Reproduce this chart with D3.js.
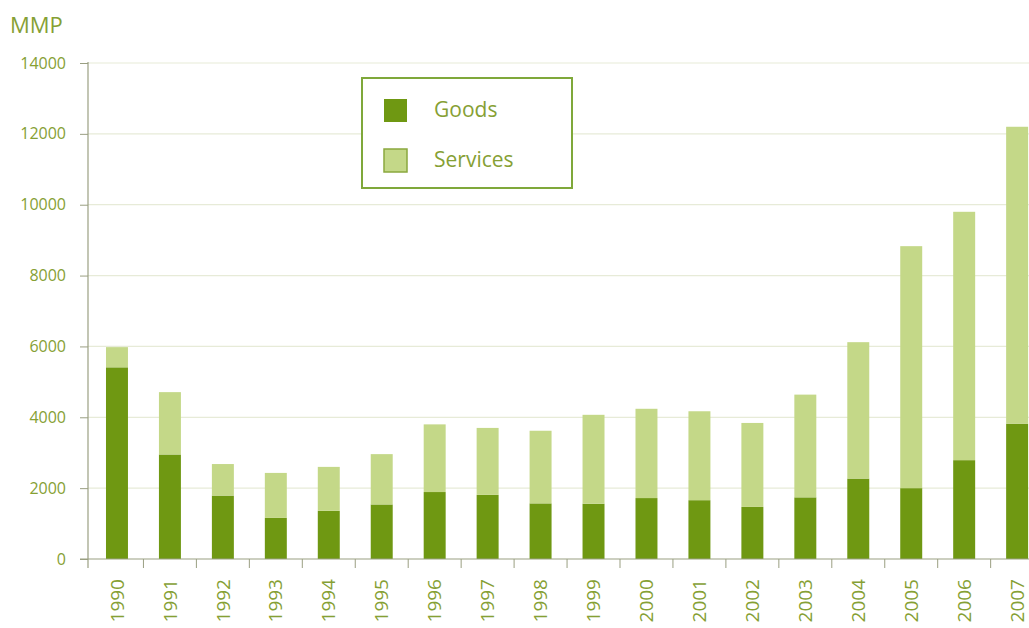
<!DOCTYPE html>
<html>
<head>
<meta charset="utf-8">
<script src="https://cdn.jsdelivr.net/npm/d3@7"></script>
<style>
  html, body { margin: 0; padding: 0; background: #fff; }
  svg { display: block; }
  text { font-family: "Open Sans", "Noto Sans", sans-serif; }
</style>
</head>
<body>
<svg id="chart" width="1029" height="628"></svg>
<script>
// Trade volume by year, split into goods and services (MMP)
const years = ["1990","1991","1992","1993","1994","1995","1996","1997","1998","1999",
               "2000","2001","2002","2003","2004","2005","2006","2007"];
const goods    = [5410, 2950, 1790, 1160, 1360, 1540, 1890, 1810, 1570, 1560,
                  1720, 1660, 1470, 1740, 2270, 2000, 2790, 3820];
const services = [ 570, 1760,  890, 1270, 1240, 1420, 1910, 1890, 2050, 2510,
                  2520, 2510, 2370, 2900, 3850, 6830, 7010, 8380];
const yTicks = [0, 2000, 4000, 6000, 8000, 10000, 12000, 14000];
const seriesNames = ["Goods", "Services"];

const colGoods = "#6f9812";
const colServices = "#c4d888";
const colText = "#86a034";
const colAxis = "#9a9f82";
const colGrid = "#e7ebd8";

const svg = d3.select("#chart");
const W = 1029;
const axisX = 88;

const y = d3.scaleLinear().domain([0, 14000]).range([559, 63]);
const step = 52.95;
const x = d3.scaleBand()
  .domain(years)
  .range([90.5, 90.5 + step * years.length])
  .paddingInner(0.585)
  .paddingOuter(0.2925);

// grid lines
svg.append("g")
  .selectAll("line")
  .data(yTicks.filter(d => d > 0))
  .join("line")
  .attr("x1", axisX).attr("x2", W)
  .attr("y1", d => y(d)).attr("y2", d => y(d))
  .attr("stroke", colGrid).attr("stroke-width", 1.2);

// stacked bars
const rows = years.map((yr, i) => ({ year: yr, Goods: goods[i], Services: services[i] }));
const stacked = d3.stack().keys(seriesNames)(rows);
const colors = { Goods: colGoods, Services: colServices };

svg.append("g")
  .selectAll("g")
  .data(stacked)
  .join("g")
  .attr("fill", s => colors[s.key])
  .selectAll("rect")
  .data(s => s)
  .join("rect")
  .attr("x", d => x(d.data.year))
  .attr("width", x.bandwidth())
  .attr("y", d => y(d[1]))
  .attr("height", d => y(d[0]) - y(d[1]));

// y axis
const yAxis = svg.append("g")
  .attr("transform", `translate(${axisX},0)`)
  .call(d3.axisLeft(y).tickValues(yTicks).tickSize(8).tickPadding(14).tickFormat(d3.format("d")));
yAxis.select(".domain").remove();
yAxis.selectAll(".tick line").attr("stroke", colAxis);
yAxis.selectAll(".tick text")
  .attr("fill", colText)
  .style("font-size", "16px");
yAxis.append("line")
  .attr("x1", 0).attr("x2", 0)
  .attr("y1", y(14000) - 1).attr("y2", 568)
  .attr("stroke", colAxis).attr("stroke-width", 1.2);

// x axis baseline and category separators
svg.append("line")
  .attr("x1", 80).attr("x2", W)
  .attr("y1", y(0)).attr("y2", y(0))
  .attr("stroke", colAxis).attr("stroke-width", 1.2);

svg.append("g")
  .selectAll("line")
  .data(years.slice(1))
  .join("line")
  .attr("x1", d => x(d) - x.step() * x.paddingInner() / 2)
  .attr("x2", d => x(d) - x.step() * x.paddingInner() / 2)
  .attr("y1", y(0)).attr("y2", y(0) + 9)
  .attr("stroke", colAxis).attr("stroke-width", 1);

// rotated year labels
const xAxis = svg.append("g")
  .attr("transform", `translate(0,${y(0)})`)
  .call(d3.axisBottom(x).tickSize(0).tickPadding(0));
xAxis.select(".domain").remove();
xAxis.selectAll(".tick text")
  .attr("fill", colText)
  .style("font-size", "19px")
  .attr("text-anchor", "end")
  .attr("dy", "0.35em")
  .attr("transform", "translate(0,20) rotate(-90)")
  .attr("y", 0)
  .attr("x", 0);

// unit label
svg.append("text")
  .attr("x", 10).attr("y", 33)
  .attr("fill", colText)
  .style("font-size", "22px")
  .text("MMP");

// legend
const legend = svg.append("g");
legend.append("rect")
  .attr("x", 362).attr("y", 78).attr("width", 210).attr("height", 110)
  .attr("fill", "#fff").attr("stroke", "#7fa83a").attr("stroke-width", 2);
const items = legend.selectAll("g.item")
  .data(seriesNames)
  .join("g")
  .attr("class", "item")
  .attr("transform", (d, i) => `translate(384,${99 + i * 50})`);
items.append("rect")
  .attr("width", 23).attr("height", 23)
  .attr("fill", d => colors[d])
  .attr("stroke", d => d === "Services" ? "#8aa83e" : "none")
  .attr("stroke-width", 1.5);
items.append("text")
  .attr("x", 50).attr("y", 18)
  .attr("fill", colText)
  .style("font-size", "21px")
  .text(d => d);
</script>
</body>
</html>
